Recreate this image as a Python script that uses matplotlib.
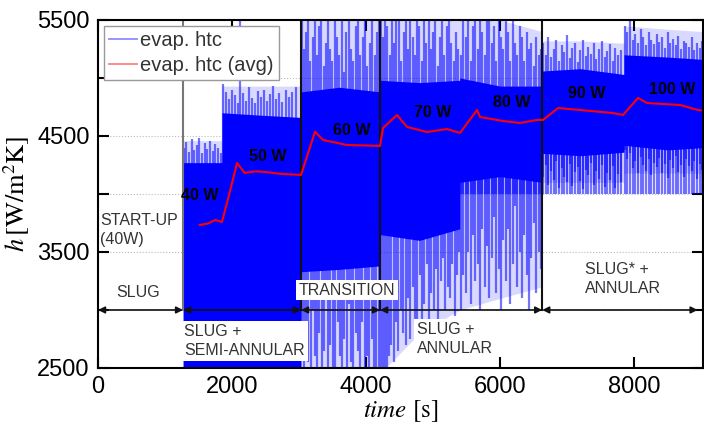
import matplotlib.pyplot as plt
from matplotlib.lines import Line2D

plt.rcParams['font.family'] = ['Liberation Sans', 'DejaVu Sans']
plt.rcParams['mathtext.fontset'] = 'stix'

# dense part of the evaporator htc signal [s], [W/m2K]
core_t = [1270, 1850, 1850, 2400, 3030, 3030, 3600, 4210, 4210, 4800, 5400,
          5400, 6000, 6630, 6630, 7200, 7850, 7850, 8500, 9030]
core_top = [4270, 4270, 4700, 4680, 4660, 4880, 4920, 4880, 4980, 4960, 4980,
            5000, 4930, 4930, 5060, 5080, 5030, 5200, 5180, 5160]
core_bot = [2450, 2450, 2450, 2450, 2450, 3330, 3350, 3380, 3650, 3600, 3700,
            4100, 4150, 4100, 4350, 4330, 4360, 4420, 4380, 4400]

# range covered by the fluctuations
spread_top = [4460, 4460, 4930, 4930, 4930, 5500, 5500, 5500, 5500, 5500, 5500,
              5500, 5500, 5400, 5320, 5320, 5300, 5450, 5420, 5400]
spread_bot = [2450, 2450, 2450, 2450, 2450, 2450, 2450, 2450, 2450, 2800, 3000,
              3000, 3100, 3200, 4100, 4100, 4100, 4180, 4180, 4180]

# peaks of the signal above the dense part
up_t = [1285, 1320, 1360, 1400, 1440, 1475, 1510, 1550, 1590, 1630, 1670, 1710, 1750, 1790, 1830,
        1865, 1905, 1950, 1995, 2040, 2085, 2120, 2165, 2210, 2255, 2300, 2345, 2390, 2435,
        2480, 2525, 2570, 2615, 2660, 2705, 2750, 2800, 2850, 2900, 2960,
        3045, 3080, 3105, 3140, 3170, 3210, 3235, 3270, 3300, 3335, 3370, 3400, 3440, 3465,
        3500, 3540, 3570, 3600, 3640, 3675, 3705, 3740, 3780, 3810, 3845, 3880, 3915, 3950,
        3985, 4020, 4060, 4095, 4130, 4170, 4195,
        4225, 4255, 4290, 4320, 4355, 4390, 4420, 4455, 4490, 4520, 4560, 4590, 4625, 4660,
        4695, 4725, 4760, 4795, 4830, 4865, 4900, 4935, 4965, 5000, 5035, 5070, 5105, 5140,
        5170, 5205, 5240, 5275, 5310, 5345, 5380,
        5420, 5455, 5490, 5525, 5560, 5590, 5630, 5665, 5700, 5735, 5770, 5805, 5840, 5875,
        5910, 5945, 5980, 6015, 6050, 6085, 6120, 6155, 6190, 6225, 6260, 6295, 6330, 6365,
        6400, 6435, 6470, 6505, 6540, 6575, 6610,
        6645, 6685, 6720, 6760, 6800, 6840, 6880, 6920, 6960, 7000, 7040, 7080, 7120, 7160,
        7200, 7240, 7280, 7320, 7360, 7400, 7440, 7480, 7520, 7560, 7600, 7640, 7680, 7720,
        7760, 7810,
        7865, 7900, 7940, 7980, 8020, 8060, 8100, 8140, 8180, 8220, 8260, 8300, 8340, 8380,
        8420, 8460, 8500, 8540, 8580, 8620, 8660, 8700, 8740, 8780, 8820, 8860, 8900, 8940,
        8980, 9015]
up_h = [4400, 4450, 4360, 4470, 4380, 4420, 4480, 4350, 4440, 4390, 4460, 4370, 4430, 4400, 4350,
        4950, 4880, 4820, 4900, 4850, 4780, 5500, 4870, 4800, 4920, 4830, 4780, 4890, 4840,
        4900, 4800, 4860, 4930, 4820, 4870, 4790, 4900, 4840, 4880, 4920,
        5500, 5250, 5400, 5500, 5150, 5350, 5500, 5200, 5450, 5500, 5100, 5300, 5500, 5250,
        5150, 5500, 5350, 5200, 5500, 5050, 5400, 5500, 5250, 5150, 5450, 5500, 5200, 5350,
        5500, 5100, 5300, 5500, 5200, 5400, 5500,
        5500, 5350, 5500, 5450, 5200, 5500, 5300, 5500, 5500, 5150, 5400, 5500, 5250, 5500,
        5350, 5200, 5500, 5450, 5150, 5500, 5300, 5500, 5250, 5400, 5500, 5100, 5350, 5500,
        5200, 5450, 5500, 5300, 5150, 5400, 5250,
        5200, 5500, 5350, 5500, 5150, 5450, 5500, 5250, 5500, 5400, 5200, 5500, 5500, 5300,
        5450, 5150, 5500, 5350, 5250, 5500, 5400, 5150, 5500, 5300, 5200, 5450, 5350, 5150,
        5400, 5250, 5300, 5100, 5350, 5200, 5250,
        5300, 5200, 5350, 5180, 5250, 5330, 5150, 5280, 5220, 5370, 5170, 5260, 5300, 5140,
        5240, 5330, 5190, 5270, 5210, 5300, 5160, 5250, 5320, 5180, 5230, 5290, 5150, 5260,
        5200, 5240,
        5450, 5400, 5500, 5330, 5380, 5300, 5420, 5350, 5280, 5400, 5330, 5290, 5380, 5310,
        5350, 5260, 5400, 5300, 5340, 5280, 5360, 5250, 5320, 5300, 5270, 5350, 5240, 5300,
        5260, 5320]

# dips of the signal below the dense part
down_t = [3045, 3075, 3110, 3140, 3175, 3205, 3240, 3270, 3305, 3340, 3370, 3405, 3440, 3470,
          3505, 3540, 3575, 3605, 3640, 3675, 3710, 3740, 3775, 3810, 3845, 3880, 3910, 3945,
          3980, 4015, 4050, 4085, 4120, 4155, 4190,
          4225, 4250, 4280, 4310, 4345, 4380, 4415, 4450, 4485, 4520, 4555, 4590, 4625, 4660,
          4695, 4730, 4765, 4800, 4835, 4870, 4905, 4940, 4975, 5010, 5045, 5080, 5115, 5150,
          5185, 5220, 5255, 5290, 5325, 5360, 5390,
          5420, 5455, 5490, 5525, 5560, 5595, 5630, 5665, 5700, 5735, 5770, 5805, 5840, 5875,
          5910, 5945, 5980, 6015, 6050, 6085, 6120, 6155, 6190, 6225, 6260, 6295, 6330, 6365,
          6400, 6435, 6470, 6505, 6540, 6575, 6610,
          6645, 6685, 6720, 6760, 6800, 6840, 6880, 6920, 6960, 7000, 7040, 7080, 7120, 7160,
          7200, 7240, 7280, 7320, 7360, 7400, 7440, 7480, 7520, 7560, 7600, 7640, 7680, 7720,
          7760, 7810,
          7865, 7900, 7940, 7980, 8020, 8060, 8100, 8140, 8180, 8220, 8260, 8300, 8340, 8380,
          8420, 8460, 8500, 8540, 8580, 8620, 8660, 8700, 8740, 8780, 8820, 8860, 8900, 8940,
          8980, 9015]
down_h = [2700, 2450, 2900, 2550, 2450, 3000, 2600, 2450, 2800, 2450, 2650, 3100, 2450, 2700,
          2500, 2450, 2900, 2600, 2450, 2750, 2450, 3050, 2550, 2450, 2800, 2650, 2450, 2900,
          2450, 2600, 2450, 2750, 2450, 2500, 2450,
          2450, 2450, 2500, 2450, 2600, 2700, 2550, 2900, 2650, 3000, 2800, 2700, 3100, 2750,
          3200, 2900, 2650, 3300, 2850, 3050, 3400, 2800, 3150, 3000, 3350, 2900, 3250, 3450,
          3000, 3200, 3100, 3400, 2950, 3300, 3500,
          3000, 3300, 3150, 3500, 3050, 3650, 3250, 3400, 3000, 3700, 3200, 3550, 3100, 3450,
          3800, 3150, 3350, 3000, 3600, 3250, 3700, 3050, 3400, 3900, 3200, 3500, 3100, 3650,
          3300, 3000, 3450, 3750, 3150, 3500, 3350,
          4150, 4250, 4080, 4200, 4120, 4280, 4050, 4220, 4150, 4100, 4260, 4070, 4190, 4230,
          4110, 4040, 4210, 4160, 4270, 4080, 4200, 4130, 4250, 4060, 4180, 4120, 4240, 4050,
          4170, 4100,
          4380, 4300, 4350, 4220, 4280, 4180, 4320, 4250, 4200, 4300, 4160, 4270, 4230, 4310,
          4180, 4260, 4140, 4290, 4220, 4330, 4190, 4250, 4150, 4300, 4240, 4200, 4280, 4130,
          4260, 4210]

# moving average of the htc
avg_t = [1520, 1640, 1750, 1850, 1960, 2075, 2190, 2350, 2500, 2700, 3030, 3239, 3358,
         3716, 4000, 4209, 4254, 4463, 4612, 4910, 5209, 5403, 5657, 5701, 6045, 6299,
         6552, 6642, 6866, 7194, 7687, 7836, 8060, 8194, 8687, 8955, 9020]
avg_h = [3733, 3745, 3776, 3759, 4000, 4267, 4181, 4195, 4190, 4175, 4164, 4537, 4466,
         4422, 4418, 4414, 4569, 4681, 4578, 4534, 4560, 4526, 4724, 4664, 4629, 4612,
         4638, 4638, 4741, 4724, 4698, 4681, 4828, 4784, 4767, 4724, 4720]

# heater power steps
power_labels = ['40 W', '50 W', '60 W', '70 W', '80 W', '90 W', '100 W']
power_t = [1520, 2540, 3790, 4990, 6180, 7300, 8570]
power_h = [3990, 4320, 4550, 4700, 4785, 4870, 4900]

# flow regime boundaries [s]
regime_bounds = [0, 1270, 3030, 4210, 6630, 8950]
arrow_h = 3000


def draw_signal(ax):
    ax.fill_between(core_t, spread_bot, spread_top, color='#0000ff', alpha=0.15,
                    lw=0, zorder=1.5)
    ax.vlines(up_t, 4000, up_h, color='#0000ff', alpha=0.55, lw=1.6, zorder=2)
    ax.vlines(down_t, 4600, down_h, color='#0000ff', alpha=0.55, lw=1.6, zorder=2)
    ax.fill_between(core_t, core_bot, core_top, color='#0000ff', lw=0, zorder=3)
    ax.plot(avg_t, avg_h, color='#ff0000', lw=1.5, zorder=5)


def draw_regimes(ax):
    for i, t in enumerate(regime_bounds[1:-1]):
        color = '#777777' if i == 0 else '#111111'
        ax.plot([t, t], [arrow_h, 5500], color=color, lw=1.5, zorder=4)

    for t0, t1 in zip(regime_bounds[:-1], regime_bounds[1:]):
        ax.annotate('', xy=(t1, arrow_h), xytext=(t0, arrow_h),
                    arrowprops=dict(arrowstyle='<|-|>', color='#111111', lw=1.2,
                                    mutation_scale=10, shrinkA=0, shrinkB=0),
                    zorder=6)

    txt = dict(fontsize=11.5, color='#333333', linespacing=1.35, zorder=7)
    box = dict(facecolor='white', edgecolor='none', pad=2)
    ax.text(600, 3150, 'SLUG', ha='center', va='center', **txt)
    ax.text(30, 3690, 'START-UP\n(40W)', ha='left', va='center', **txt)
    ax.text(1290, 2735, 'SLUG +\nSEMI-ANNULAR', ha='left', va='center', bbox=box, **txt)
    ax.text(3716, 3170, 'TRANSITION', ha='center', va='center', bbox=box, **txt)
    ax.text(4760, 2750, 'SLUG +\nANNULAR', ha='left', va='center', bbox=box, **txt)
    ax.text(7270, 3270, 'SLUG* +\nANNULAR', ha='left', va='center', **txt)

    for label, t, h in zip(power_labels, power_t, power_h):
        ax.text(t, h, label, ha='center', va='center', fontsize=11.5,
                fontweight='bold', color='black', zorder=7)


fig = plt.figure(figsize=(7.04, 4.26), dpi=100)
ax = fig.add_axes([0.1392, 0.1362, 0.8594, 0.8169])

draw_signal(ax)
draw_regimes(ax)

ax.set_xlim(0, 9030)
ax.set_ylim(2500, 5500)
ax.set_xticks([0, 2000, 4000, 6000, 8000])
ax.set_yticks([2500, 3500, 4500, 5500])
ax.set_yticks([3000, 4000, 5000], minor=True)
ax.tick_params(which='both', direction='in', top=True, right=True,
               length=8, width=1.5, labelsize=17, pad=6)
ax.grid(axis='y', which='both', linestyle=':', color='#bbbbbb', lw=0.8)
ax.set_axisbelow(True)
for spine in ax.spines.values():
    spine.set_linewidth(1.5)
    spine.set_zorder(8)

ax.set_xlabel(r'$\mathit{time}$ [s]', fontsize=18, family='STIXGeneral', labelpad=0)
ax.set_ylabel(r'$h\,[\mathrm{W/m^2K}]$', fontsize=19, labelpad=4)

handles = [Line2D([], [], color='#0000ff', alpha=0.45, lw=1.3),
           Line2D([], [], color='#ff0000', alpha=0.5, lw=1.3)]
leg = ax.legend(handles, ['evap. htc', 'evap. htc (avg)'], loc='upper left',
                fontsize=14.5, frameon=True, fancybox=False, framealpha=1,
                edgecolor='#999999', borderaxespad=0.3, handlelength=1.4,
                handletextpad=0.15, labelspacing=0.3, borderpad=0.25)
leg.set_zorder(10)
for text in leg.get_texts():
    text.set_color('#333333')

fig.savefig('out.png', dpi=100)
